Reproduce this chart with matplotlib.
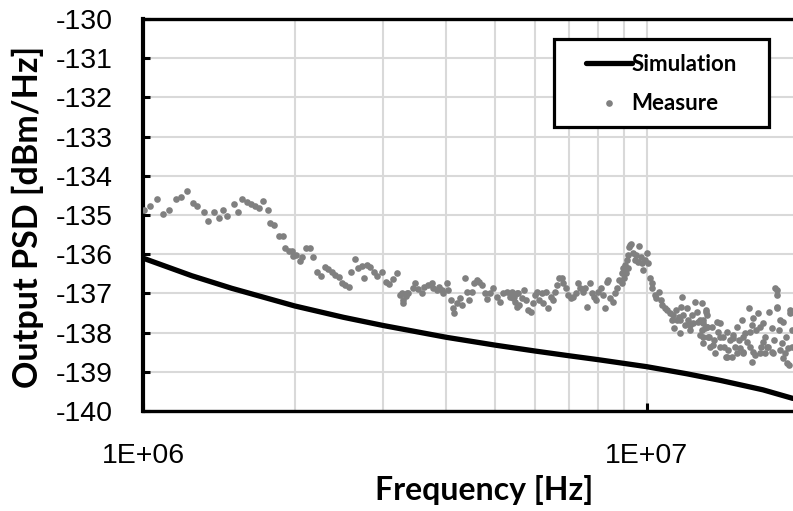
import numpy as np
import matplotlib as mpl
mpl.use('Agg')
import matplotlib.pyplot as plt
import matplotlib.ticker as tk
from matplotlib.patches import Rectangle

# simulated output PSD (frequency in MHz, PSD in dBm/Hz)
sim_freq_mhz = [1.0, 1.25, 1.5, 2.0, 2.5, 3.0, 4.0, 5.0, 6.0, 7.0, 8.0,
                10.0, 12.0, 14.0, 17.0, 19.5]
sim_psd = [-136.10, -136.55, -136.87, -137.32, -137.61, -137.82, -138.12,
           -138.32, -138.47, -138.59, -138.69, -138.87, -139.05, -139.22,
           -139.46, -139.68]

meas_freq_mhz = [
    1.005, 1.032, 1.065, 1.094, 1.128, 1.163, 1.188, 1.221, 1.255, 1.282,
    1.321, 1.346, 1.383, 1.413, 1.439, 1.470, 1.516, 1.544, 1.572, 1.606,
    1.640, 1.670, 1.701, 1.733, 1.770, 1.786, 1.819, 1.859, 1.893, 1.910,
    1.951, 1.973, 1.987, 2.012, 2.049, 2.065, 2.106, 2.145, 2.171, 2.218,
    2.252, 2.297, 2.332, 2.368, 2.405, 2.452, 2.480, 2.517, 2.563, 2.587,
    2.634, 2.675, 2.716, 2.745, 2.787, 2.822, 2.873, 2.917, 2.975, 3.034,
    3.080, 3.137, 3.194, 3.235, 3.260, 3.284, 3.284, 3.325, 3.335, 3.360,
    3.428, 3.465, 3.517, 3.572, 3.609, 3.682, 3.740, 3.768, 3.826, 3.872,
    3.915, 3.944, 4.005, 4.035, 4.079, 4.116, 4.140, 4.191, 4.257, 4.290,
    4.355, 4.389, 4.442, 4.490, 4.537, 4.593, 4.648, 4.699, 4.770, 4.820,
    4.881, 4.955, 5.033, 5.108, 5.187, 5.268, 5.349, 5.389, 5.430, 5.446,
    5.471, 5.513, 5.529, 5.553, 5.579, 5.641, 5.701, 5.753, 5.814, 5.878,
    5.932, 5.995, 6.058, 6.113, 6.181, 6.226, 6.303, 6.370, 6.441, 6.500,
    6.570, 6.621, 6.700, 6.773, 6.823, 6.908, 6.981, 7.058, 7.142, 7.231,
    7.308, 7.366, 7.457, 7.535, 7.615, 7.709, 7.770, 7.851, 7.923, 8.007,
    8.096, 8.194, 8.257, 8.322, 8.381, 8.446, 8.551, 8.641, 8.708, 8.811,
    8.908, 8.910, 8.975, 9.003, 9.045, 9.085, 9.116, 9.181, 9.181, 9.225,
    9.253, 9.282, 9.393, 9.467, 9.510, 9.610, 9.654, 9.716, 9.761, 9.832,
    9.909, 9.986, 10.06, 10.14, 10.22, 10.26, 10.37, 10.45, 10.58, 10.65,
    10.74, 10.86, 10.97, 11.11, 11.20, 11.25, 11.31, 11.42, 11.49, 11.59,
    11.63, 11.63, 11.67, 11.72, 11.81, 11.90, 11.99, 12.08, 12.17, 12.17,
    12.27, 12.36, 12.45, 12.55, 12.64, 12.74, 12.74, 12.84, 12.84, 12.93,
    12.93, 12.93, 13.03, 13.09, 13.09, 13.17, 13.17, 13.23, 13.29, 13.44,
    13.54, 13.58, 13.75, 13.85, 14.00, 14.13, 14.22, 14.35, 14.40, 14.43,
    14.61, 14.79, 14.83, 14.95, 15.11, 15.25, 15.42, 15.53, 15.53, 15.65,
    15.78, 15.96, 16.01, 16.14, 16.16, 16.21, 16.26, 16.46, 16.63, 16.76,
    16.82, 17.02, 17.15, 17.15, 17.29, 17.49, 17.69, 17.69, 17.87, 17.98,
    18.10, 18.10, 18.10, 18.15, 18.31, 18.36, 18.51, 18.62, 18.65, 18.88,
    18.94, 19.08, 19.14, 19.23, 19.23, 19.38,
    12.90, 13.34, 13.64, 13.96, 14.50, 14.73, 15.07, 15.30, 16.01, 16.38,
    16.76, 17.41, 17.76, 18.36, 18.79, 19.38, 13.14, 15.53, 17.02, 13.96]
meas_psd = [
    -134.87, -134.77, -134.60, -134.98, -134.87, -134.60, -134.54, -134.38, -134.70, -134.77,
    -134.93, -135.15, -134.93, -135.08, -134.86, -135.03, -134.71, -134.92, -134.60, -134.66,
    -134.73, -134.78, -134.83, -134.65, -134.87, -135.20, -135.26, -135.53, -135.53, -135.84,
    -135.93, -135.91, -136.04, -136.02, -136.17, -136.06, -135.85, -135.85, -136.06, -136.45,
    -136.56, -136.32, -136.39, -136.45, -136.53, -136.57, -136.74, -136.79, -136.84, -136.45,
    -136.13, -136.34, -136.30, -136.61, -136.28, -136.32, -136.45, -136.56, -136.45, -136.70,
    -136.76, -136.64, -136.49, -137.04, -137.00, -137.17, -137.25, -137.07, -136.98, -137.00,
    -136.87, -136.73, -136.90, -137.00, -136.83, -136.79, -136.73, -136.87, -136.91, -136.83,
    -136.91, -137.00, -136.73, -136.91, -137.17, -137.38, -137.51, -137.24, -137.13, -137.30,
    -136.61, -136.96, -137.17, -136.96, -136.74, -136.66, -136.70, -136.79, -137.00, -137.15,
    -137.00, -136.87, -137.08, -137.21, -137.00, -136.96, -137.08, -136.96, -137.13, -137.08,
    -137.21, -137.34, -137.00, -137.00, -137.30, -137.13, -136.91, -137.17, -137.42, -137.47,
    -137.25, -137.04, -136.96, -137.17, -137.00, -137.25, -136.96, -137.38, -137.08, -137.17,
    -136.96, -136.79, -136.61, -136.61, -136.74, -136.87, -137.04, -137.13, -137.08, -137.00,
    -136.74, -136.87, -136.96, -136.87, -137.34, -136.74, -137.00, -137.08, -137.17, -136.96,
    -136.87, -137.04, -137.38, -136.70, -136.66, -137.13, -137.21, -137.00, -136.87, -136.66,
    -136.74, -136.49, -136.36, -136.61, -136.28, -136.49, -136.15, -136.02, -136.36, -135.81,
    -135.77, -135.74, -135.98, -136.15, -136.02, -136.19, -135.79, -136.06, -136.23, -136.40,
    -136.15, -135.98, -136.23, -136.61, -136.74, -136.87, -137.04, -137.13, -136.96, -137.17,
    -137.30, -137.38, -137.42, -137.51, -137.68, -137.55, -137.89, -137.42, -137.68, -137.59,
    -137.68, -138.02, -137.34, -137.08, -137.55, -137.81, -137.38, -137.68, -137.93, -137.81,
    -137.55, -137.76, -137.21, -137.47, -137.72, -137.68, -138.06, -137.93, -137.25, -137.76,
    -137.68, -138.27, -137.89, -137.42, -137.47, -137.85, -137.55, -138.10, -138.10, -137.85,
    -138.32, -138.19, -137.72, -137.98, -137.76, -138.10, -138.36, -138.61, -138.61, -137.98,
    -138.19, -138.06, -138.15, -138.36, -137.85, -138.19, -137.68, -138.49, -138.53, -138.02,
    -138.23, -137.38, -137.98, -137.81, -138.75, -138.49, -137.64, -137.93, -137.49, -137.85,
    -138.36, -137.76, -138.10, -138.53, -138.36, -137.47, -137.89, -138.49, -138.19, -136.87,
    -137.04, -136.91, -137.34, -137.38, -137.93, -137.68, -138.27, -138.65, -137.72, -138.10,
    -138.78, -138.40, -138.83, -137.51, -137.42, -137.93,
    -138.10, -138.36, -138.53, -138.36, -138.44, -138.61, -138.53, -138.40, -138.36, -138.57,
    -138.53, -138.36, -138.53, -138.44, -138.53, -138.36, -137.85, -138.10, -138.23, -138.10]

y_ticks = list(range(-140, -129))
x_ticks = [1e6, 1e7]
x_tick_labels = ['1E+06', '1E+07']

W, H = 793, 511
fig = plt.figure(figsize=(W / 100, H / 100), dpi=100)
ax = fig.add_axes([143 / W, 1 - 411 / H, 1 - 143 / W, (411 - 19) / H])

ax.plot(np.array(meas_freq_mhz) * 1e6, meas_psd, 'o', color='#808080',
        ms=4.8, mew=0, label='Measure', zorder=3)
ax.plot(np.array(sim_freq_mhz) * 1e6, sim_psd, '-', color='black',
        lw=3.8, label='Simulation', zorder=4, solid_capstyle='round')

ax.set_xscale('log')
ax.set_xlim(1e6, 1.95e7)
ax.set_ylim(-140, -130)

ax.set_yticks(y_ticks)
ax.set_yticklabels([str(v) for v in y_ticks])
ax.xaxis.set_major_locator(tk.FixedLocator(x_ticks))
ax.xaxis.set_major_formatter(tk.FixedFormatter(x_tick_labels))
ax.xaxis.set_minor_locator(tk.LogLocator(base=10, subs=np.arange(2, 10)))
ax.xaxis.set_minor_formatter(tk.NullFormatter())

for lab in ax.get_yticklabels() + ax.get_xticklabels():
    lab.set_fontfamily('Liberation Sans')
    lab.set_fontsize(20.5)

ax.tick_params(axis='y', which='major', direction='in', length=5, width=2.2,
               pad=22, colors='black')
ax.tick_params(axis='x', which='major', direction='in', length=6, width=2.2,
               pad=23, colors='black')
ax.tick_params(axis='x', which='minor', length=0)

ax.grid(True, axis='y', which='major', color='#d9d9d9', lw=1.5, zorder=0)
ax.grid(True, axis='x', which='both', color='#d9d9d9', lw=1.5, zorder=0)
ax.set_axisbelow(True)

ax.spines['left'].set_linewidth(3.0)
ax.spines['bottom'].set_linewidth(2.4)
ax.spines['top'].set_linewidth(2.4)
ax.spines['right'].set_visible(False)

fig.text(28 / W, 1 - 217 / H, 'Output PSD [dBm/Hz]', rotation=90,
         ha='center', va='center', family='Lato', weight='bold', size=24.5)
fig.text(484 / W, 1 - 490 / H, 'Frequency [Hz]', ha='center', va='center',
         family='Lato', weight='bold', size=23)

# legend: frame drawn separately so the padding can match the original
fig.patches.append(Rectangle((554 / W, 1 - 127 / H), (769 - 554) / W, (127 - 39) / H,
                             transform=fig.transFigure, facecolor='white',
                             edgecolor='black', lw=2.3, zorder=5))
handles, labels = ax.get_legend_handles_labels()
leg = fig.legend(handles[::-1], labels[::-1], loc='center left',
                 bbox_to_anchor=(586 / W, 1 - 84 / H), borderaxespad=0, borderpad=0,
                 numpoints=1, handlelength=2.05, handletextpad=0.0,
                 labelspacing=0.85, frameon=False,
                 prop=dict(family='Lato', weight='bold', size=16))
leg.set_zorder(6)

plt.savefig('out.png', dpi=100)
